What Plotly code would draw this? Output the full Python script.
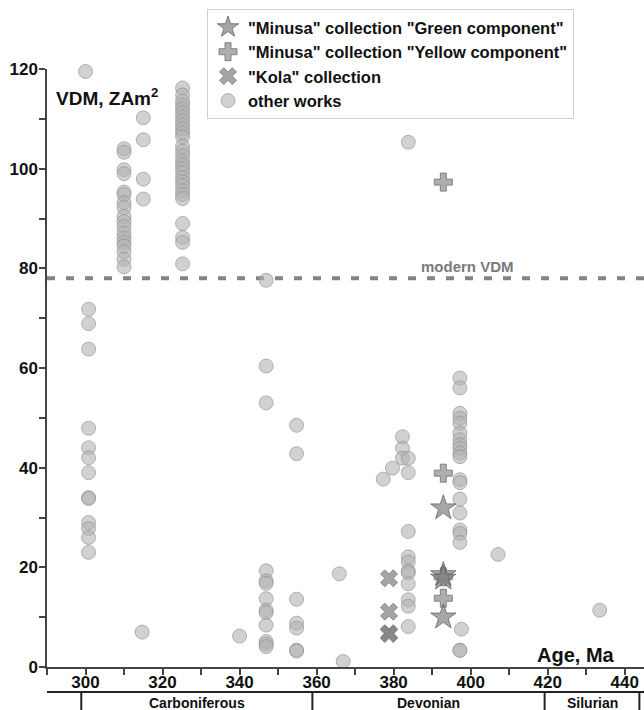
import plotly.graph_objects as go

# ---------------- data ----------------
# "other works" : ages (Ma) and VDM (ZAm2)
other_age = [300.0] + [300.8]*13 + [310.0]*18 + [315.0]*4 + [314.7] + [325.2]*29 + [340.0] \
    + [346.9]*13 + [354.8]*7 + [365.9, 366.9] \
    + [377.3, 379.7, 382.3, 382.3, 382.3, 383.8, 383.8, 383.8] \
    + [383.8]*9 + [397.2]*20 + [397.6, 407.1, 433.5]
other_vdm = [119.5] \
    + [71.8, 68.9, 63.8, 47.9, 44.0, 42.0, 39.0, 34.0, 33.8, 29.0, 27.8, 26.0, 23.0] \
    + [104.0, 103.3, 99.8, 99.0, 95.3, 94.8, 93.2, 92.2, 90.4, 89.4, 88.4, 87.1, 86.1, 85.3, 84.5, 83.3, 81.8, 80.3] \
    + [110.2, 105.8, 97.9, 93.9] + [7.0] \
    + [116.2, 114.8, 113.6, 112.8, 112.0, 111.2, 110.4, 109.6, 108.8, 108.0, 107.2, 106.4, 104.5, 103.5,
       102.6, 101.6, 100.8, 100.0, 99.2, 98.2, 97.4, 96.6, 95.6, 94.8, 94.0, 89.0, 86.2, 85.2, 80.9] \
    + [6.2] \
    + [77.6, 60.4, 53.0, 19.3, 17.3, 16.8, 13.7, 11.4, 10.9, 8.4, 5.1, 4.6, 4.1] \
    + [48.5, 42.8, 13.6, 8.8, 7.8, 3.4, 3.2] + [18.7, 1.1] \
    + [37.7, 39.9, 46.2, 43.9, 41.9, 41.9, 39.0, 105.3] \
    + [27.2, 22.1, 21.1, 19.3, 18.9, 16.7, 13.5, 12.2, 8.1] \
    + [58.0, 56.0, 50.9, 49.9, 48.9, 46.9, 45.6, 44.6, 43.9, 42.9, 42.2, 37.6, 37.0, 33.7, 30.9,
       27.5, 26.8, 25.0, 3.4, 3.3] \
    + [7.6, 22.6, 11.4]

kola_age = [378.8, 378.8, 378.8, 378.8]
kola_vdm = [17.8, 11.1, 6.8, 6.6]

yellow_age = [392.9, 392.9, 392.9, 392.9]
yellow_vdm = [97.3, 38.9, 18.1, 13.8]

green_age = [392.9, 392.9, 392.9, 392.9]
green_vdm = [31.9, 18.5, 17.8, 10.0]

modern_vdm = 78

x_ticks = [300, 320, 340, 360, 380, 400, 420, 440]
y_ticks = [0, 20, 40, 60, 80, 100, 120]

periods = ["Carboniferous", "Devonian", "Silurian"]
period_bounds = [298.9, 358.9, 419.2, 443.8]

# ---------------- figure ----------------
FONT = "Liberation Sans, Arial, sans-serif"
W, H, L, R, T, B = 644, 710, 47, 0, 69, 43
pw, ph = W - L - R, H - T - B


def px_to_paper_x(px):
    return (px - L) / pw


def py_to_paper_y(py):
    return (H - B - py) / ph


fig = go.Figure()

fig.add_trace(go.Scatter(
    x=other_age, y=other_vdm, mode="markers", name="other works", legendrank=4,
    cliponaxis=False,
    marker=dict(symbol="circle", size=14, color="rgba(178,178,178,0.6)",
                line=dict(color="rgba(140,140,140,0.6)", width=1))))
fig.add_trace(go.Scatter(
    x=kola_age, y=kola_vdm, mode="markers", name="\"Kola\" collection", legendrank=3,
    cliponaxis=False,
    marker=dict(symbol="x", size=15, color="rgba(125,125,125,0.7)",
                line=dict(color="rgba(110,110,110,0.7)", width=1))))
fig.add_trace(go.Scatter(
    x=yellow_age, y=yellow_vdm, mode="markers",
    name="\"Minusa\" collection \"Yellow component\"", legendrank=2, cliponaxis=False,
    marker=dict(symbol="cross", size=15, color="rgba(140,140,140,0.7)",
                line=dict(color="rgba(110,110,110,0.8)", width=1))))
fig.add_trace(go.Scatter(
    x=green_age, y=green_vdm, mode="markers",
    name="\"Minusa\" collection \"Green component\"", legendrank=1, cliponaxis=False,
    marker=dict(symbol="star", size=19, color="rgba(130,130,130,0.7)",
                line=dict(color="rgba(100,100,100,0.8)", width=1))))

# modern VDM dashed line
fig.add_shape(type="line", xref="paper", yref="y", x0=0, x1=1, y0=modern_vdm, y1=modern_vdm,
              line=dict(color="#838383", width=4, dash="8px,11px"), layer="below")
fig.add_annotation(x=386.6, y=modern_vdm, xref="x", yref="y", text="modern VDM",
                   showarrow=False, xanchor="left", yanchor="bottom", yshift=1,
                   font=dict(family=FONT, size=15, color="#7a7a7a", weight="bold"))

# axis titles
fig.add_annotation(x=px_to_paper_x(54), y=py_to_paper_y(97), xref="paper", yref="paper",
                   text="VDM, ZAm<sup>2</sup>",
                   showarrow=False, xanchor="left", yanchor="middle",
                   font=dict(family=FONT, size=19, color="#111", weight="bold"))
fig.add_annotation(x=px_to_paper_x(576), y=py_to_paper_y(655), xref="paper", yref="paper",
                   text="Age, Ma",
                   showarrow=False, xanchor="center", yanchor="middle",
                   font=dict(family=FONT, size=20, color="#111", weight="bold"))

# geological time-scale table below the axis
y_top = py_to_paper_y(692)
y_bot = py_to_paper_y(712)
fig.add_shape(type="line", xref="paper", yref="paper", x0=0, x1=1, y0=y_top, y1=y_top,
              line=dict(color="#222", width=2))
for b in period_bounds:
    fig.add_shape(type="line", xref="x", yref="paper", x0=b, x1=b, y0=y_top, y1=y_bot,
                  line=dict(color="#222", width=2))
for i, p in enumerate(periods):
    fig.add_annotation(x=(period_bounds[i] + period_bounds[i + 1]) / 2, y=py_to_paper_y(703),
                       xref="x", yref="paper", text=p, showarrow=False,
                       xanchor="center", yanchor="middle",
                       font=dict(family=FONT, size=14, color="#111", weight="bold"))

fig.update_layout(
    width=W, height=H, margin=dict(l=L, r=R, t=T, b=B),
    paper_bgcolor="white", plot_bgcolor="white",
    font=dict(family=FONT, color="#111"),
    showlegend=True,
    legend=dict(x=px_to_paper_x(207), y=py_to_paper_y(9), xanchor="left", yanchor="top",
                bgcolor="white", bordercolor="#cfcfcf", borderwidth=1,
                font=dict(family=FONT, size=16.5, color="#111", weight="bold"),
                tracegroupgap=0),
    xaxis=dict(range=[290, 445], tickvals=x_ticks, ticks="outside", ticklen=6, tickwidth=1.5,
               tickcolor="#444", showline=True, linecolor="#444", linewidth=1.5,
               showgrid=False, zeroline=False, ticklabelstandoff=-7,
               tickfont=dict(family=FONT, size=17, color="#111", weight="bold"),
               minor=dict(dtick=10, tick0=300, ticks="outside", ticklen=6, tickwidth=1.5,
                          tickcolor="#444", showgrid=False)),
    yaxis=dict(range=[0, 120], tickvals=y_ticks, ticks="outside", ticklen=6, tickwidth=1.5,
               tickcolor="#444", showline=True, linecolor="#444", linewidth=1.5,
               showgrid=False, zeroline=False, ticklabelstandoff=-2,
               tickfont=dict(family=FONT, size=17, color="#111", weight="bold"),
               minor=dict(dtick=10, tick0=0, ticks="outside", ticklen=6, tickwidth=1.5,
                          tickcolor="#444", showgrid=False)),
)

fig.write_html("out.html")
